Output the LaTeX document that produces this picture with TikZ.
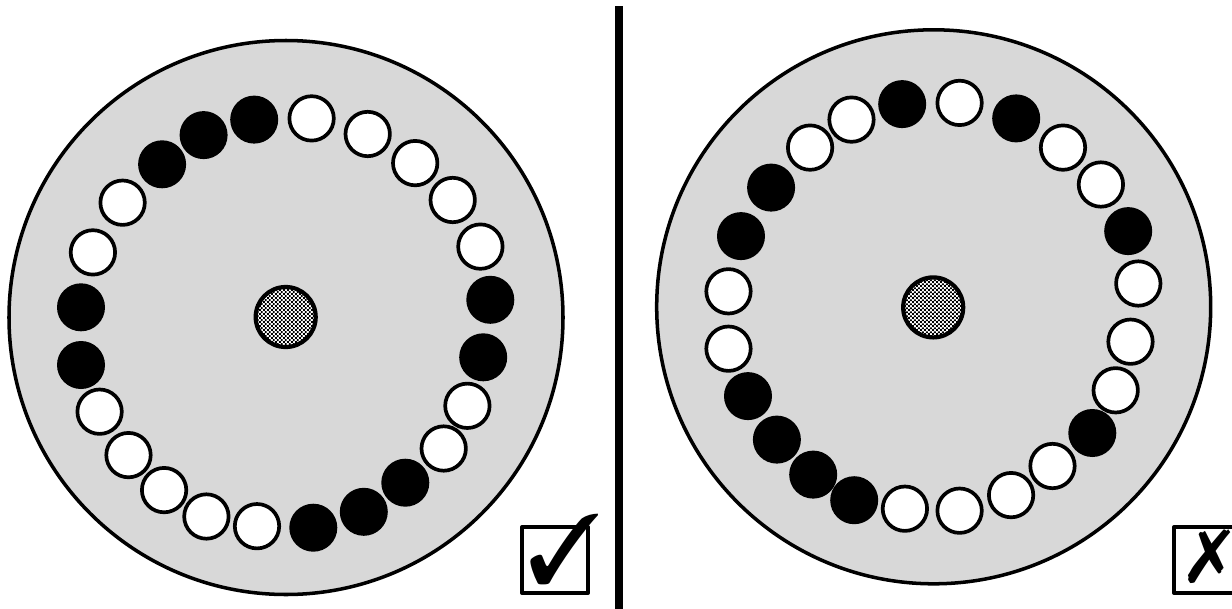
\documentclass[tikz,border=0pt]{standalone}
\usepackage{pifont}
\usetikzlibrary{patterns}
\definecolor{diskgray}{RGB}{216,216,216}
\pgfdeclarepatternformonly{dither}{\pgfqpoint{0pt}{0pt}}{\pgfqpoint{2.2pt}{2.2pt}}{\pgfqpoint{2.2pt}{2.2pt}}{%
  \pgfpathrectangle{\pgfqpoint{0pt}{0pt}}{\pgfqpoint{1.1pt}{1.1pt}}%
  \pgfpathrectangle{\pgfqpoint{1.1pt}{1.1pt}}{\pgfqpoint{1.1pt}{1.1pt}}%
  \pgfusepath{fill}}
\begin{document}
\begin{tikzpicture}[x=0.02cm, y=-0.02cm, line join=round, line cap=round,
  plate/.style={draw, fill=diskgray, line width=2pt, radius=277},
  hub/.style={draw, pattern=dither, preaction={fill=white}, line width=2.4pt, radius=30},
  wb/.style={draw, fill=white, line width=2.1pt, radius=22.2},
  bb/.style={fill=black, radius=24},
  markbox/.style={draw, line width=2.3pt, minimum size=1.32cm, inner sep=0pt}]
  \useasboundingbox (0,0) rectangle (1232,609);
  \path[plate] (286,317.5) circle[];
  \path[hub] (285.7,317) circle[];
  \foreach \x/\y/\s in {311.6/118.4/wb, 367.7/134.0/wb, 415.2/163.1/wb, 452.7/200.0/wb,
    480.4/246.6/wb, 490.3/299.8/bb, 483.2/357.3/bb, 467.4/405.8/wb, 443.7/448.5/wb,
    405.3/482.7/bb, 363.8/511.8/bb, 313.3/527.7/bb, 257.0/526.2/wb, 206.4/516.5/wb,
    164.1/490.1/wb, 128.5/455.1/wb, 99.6/411.7/wb, 81/365/bb, 81/307.3/bb,
    92.9/252.4/wb, 122.6/202.7/wb, 162.1/164.3/bb, 203.6/135.1/bb, 254.2/119.6/bb}
    \path[\s] (\x,\y) circle[];
  \draw[line width=4.5pt, line cap=butt] (619,6) -- (619,615);
  \path[plate] (933.7,306.8) circle[];
  \path[hub] (933.2,307.4) circle[];
  \foreach \x/\y/\s in {959.6/102.9/wb, 1016.2/118.4/bb, 1063.0/147.6/wb, 1100.9/184.5/wb,
    1128.2/231.1/bb, 1138.3/283.5/wb, 1130.5/341.7/wb, 1115.7/390.3/wb, 1092.3/433.0/bb,
    1052.5/466.0/wb, 1011.1/495.1/wb, 959.6/510.7/wb, 904.9/508.7/wb, 854.2/500.2/bb,
    813.2/474.6/bb, 776.9/439.6/bb, 748.0/396.1/bb, 728.5/348.7/wb, 728.5/291.3/wb,
    741.0/236.1/bb, 771.1/187.6/bb, 810.1/147.6/wb, 851.5/119.6/wb, 902.2/104.1/bb}
    \path[\s] (\x,\y) circle[];
  \node[markbox] (okbox) at (555,560) {};
  \node (okmark) at (565,549) {\fontsize{56}{56}\selectfont\ding{51}};
  \node[markbox] (nobox) at (1207,560) {};
  \node (nomark) at (1210,557) {\fontsize{42}{42}\selectfont\ding{55}};
\end{tikzpicture}
\end{document}
